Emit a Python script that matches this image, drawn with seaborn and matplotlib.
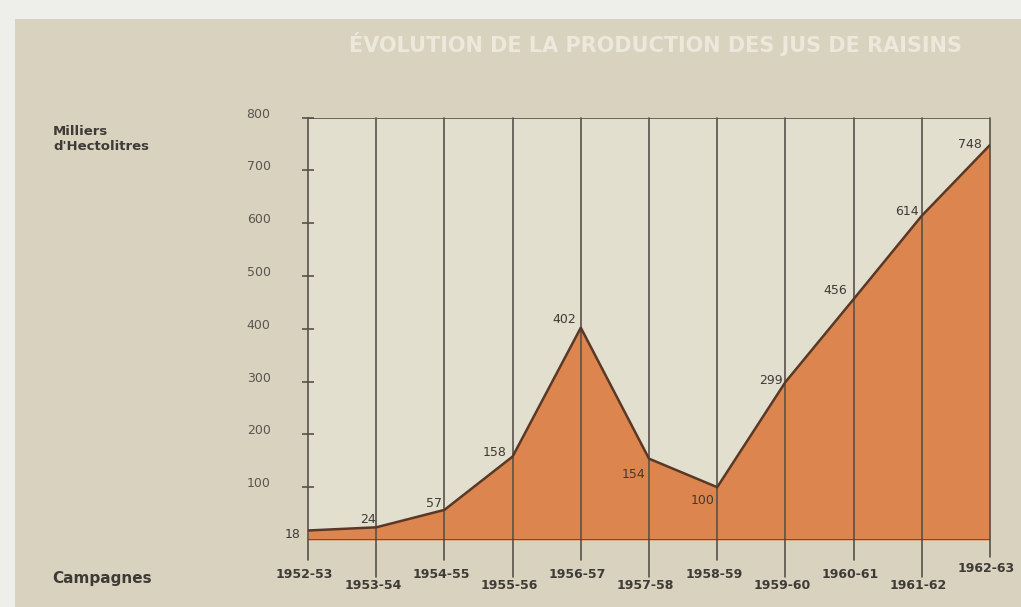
import matplotlib
matplotlib.use("Agg")
import matplotlib.pyplot as plt
import matplotlib.transforms as mtransforms
import seaborn as sns
import pandas as pd

# Campagnes and production of grape juice (thousands of hectolitres)
campagnes = ["1952-53", "1953-54", "1954-55", "1955-56", "1956-57", "1957-58",
             "1958-59", "1959-60", "1960-61", "1961-62", "1962-63"]
production = [18, 24, 57, 158, 402, 154, 100, 299, 456, 614, 748]
y_ticks = [100, 200, 300, 400, 500, 600, 700, 800]

title = "ÉVOLUTION DE LA PRODUCTION DES JUS DE RAISINS"
y_title = "Milliers\nd'Hectolitres"
x_title = "Campagnes"

df = pd.DataFrame({"idx": range(len(campagnes)), "campagne": campagnes,
                   "production": production})

sns.set_theme(style="white")
plt.rcParams["font.family"] = ["DejaVu Sans"]

PANEL = "#d8d2bf"
PLOT_BG = "#e3dfcf"
FILL = "#dc854f"
EDGE = "#5a3826"
GRID = "#56524b"
TEXT = "#3e3a35"
TICKTXT = "#5a554e"

W, H = 1021, 607
fig = plt.figure(figsize=(W / 100, H / 100), dpi=100)
fig.patch.set_facecolor("#eeeeea")
# beige panel behind the chart
fig.add_artist(plt.Rectangle((15 / W, 0), 1 - 15 / W, 1 - 19 / H,
                             transform=fig.transFigure, facecolor=PANEL,
                             edgecolor="none", zorder=-10))

ax = fig.add_axes([308 / W, 1 - 540 / H, (990 - 308) / W, (540 - 117.5) / H])
ax.set_facecolor(PLOT_BG)
n = len(campagnes)
ax.set_xlim(0, n - 1)
ax.set_ylim(0, 800)

# filled area and its outline
ax.fill_between(df["idx"], 0, df["production"], color=FILL, lw=0, zorder=1)
sns.lineplot(data=df, x="idx", y="production", ax=ax, color=EDGE, lw=1.8,
             zorder=3, legend=False)

# vertical lines per campaign, extending below the baseline down to the labels
for i, lab in enumerate(campagnes):
    if i == n - 1:
        low, ylab = -32, -54
    elif i % 2 == 0:
        low, ylab = -38, -66
    else:
        low, ylab = -70, -87
    ax.plot([i, i], [low, 800], color=GRID, lw=1.2, zorder=2, clip_on=False)
    ax.text(i - 0.05, ylab, lab, ha="center", va="center", fontsize=9,
            fontweight="bold", color=TEXT, clip_on=False)

# baseline and top border
ax.axhline(0, color=EDGE, lw=1.8, zorder=4)
ax.axhline(800, color=GRID, lw=1.2, zorder=4)
for s in ax.spines.values():
    s.set_visible(False)

# y ticks crossing the left axis, labels sitting slightly above their ticks
ax.set_yticks(y_ticks)
ax.set_yticklabels([str(v) for v in y_ticks], fontsize=9, color=TICKTXT)
ax.tick_params(axis="y", direction="inout", length=8, width=1.2,
               color=GRID, pad=23, left=True)
shift = mtransforms.ScaledTranslation(0, 5 / 100, fig.dpi_scale_trans)
for lbl in ax.get_yticklabels():
    lbl.set_transform(lbl.get_transform() + shift)
ax.set_xticks([])
ax.set_xlabel("")
ax.set_ylabel("")
ax.grid(False)

# value labels next to each point (pixel offsets)
offsets = {0: (-15, -4), 1: (-8, 8), 2: (-10, 6), 3: (-18, 4), 4: (-17, 8),
           5: (-15, -16), 6: (-15, -13), 7: (-14, 2), 8: (-18, 9),
           9: (-15, 4), 10: (-20, 0)}
for i, v in enumerate(production):
    dx, dy = offsets[i]
    ax.annotate(str(v), (i, v), xytext=(dx, dy), textcoords="offset pixels",
                ha="center", va="center", fontsize=9, color=TEXT,
                zorder=5, annotation_clip=False)

fig.text(53 / W, 1 - 139 / H, y_title, ha="left", va="center",
         fontsize=9.5, fontweight="bold", color=TEXT, linespacing=1.25)
fig.text(52 / W, 1 - 578 / H, x_title, ha="left", va="center",
         fontsize=11, fontweight="bold", color=TEXT)

# header title across the top of the chart
fig.text(655 / W, 1 - 44 / H, title, ha="center", va="center",
         fontsize=15, fontweight="bold", color="#ece8dc")

fig.savefig("out.png", dpi=100, facecolor=fig.get_facecolor())
